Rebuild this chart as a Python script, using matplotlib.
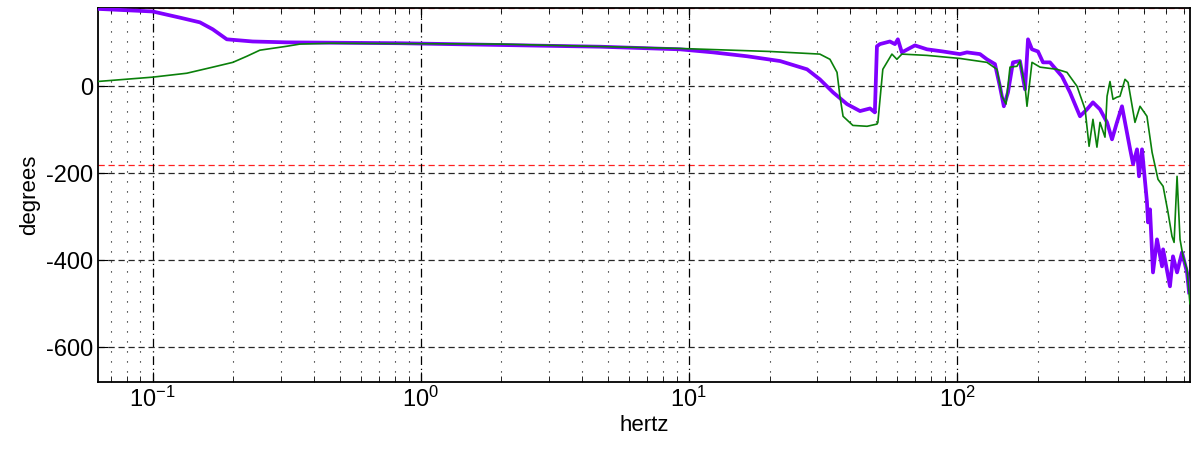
import matplotlib.pyplot as plt
from matplotlib.ticker import LogLocator, NullFormatter, FixedLocator

plt.rcParams['font.family'] = ['Liberation Sans', 'DejaVu Sans']
plt.rcParams['mathtext.fontset'] = 'custom'
plt.rcParams['mathtext.rm'] = 'Liberation Sans'
plt.rcParams['mathtext.default'] = 'regular'

# purple trace (thick)
f_purple = [0.0623, 0.1, 0.126, 0.150, 0.1675, 0.189, 0.236, 0.316, 0.835, 1.97, 4.66,
            9.25, 12.3, 16.5, 21.9, 27.6, 30.8, 34.5, 38.9, 43.5, 47.4, 49.4, 50.3, 51.6,
            56.2, 58.7, 60.2, 62.3, 69.7, 77.3, 88.7, 102.6, 109.0, 121.9, 129.4, 138.6,
            144.6, 149.6, 155.0, 161.8, 171.8, 179.5, 184.1, 190.5, 200.6, 209.4, 222.3,
            246.4, 264.0, 287.7, 305.5, 321.6, 341.7, 363.0, 378.8, 395.2, 412.7, 442.6,
            454.0, 469.6, 477.7, 490.2, 511.4, 516.2, 525.0, 538.6, 557.5, 582.1, 587.5,
            623.2, 639.5, 662.3, 691.2, 721.4, 734.4]
d_purple = [178, 172, 158, 147, 131, 108, 103, 101, 99, 95, 91,
            85, 78, 69, 58, 39, 16, -14, -41, -57, -51, -60, 92, 97,
            103, 97, 108, 78, 94, 85, 80, 74, 78, 74, 62, 51,
            0, -46, -14, 55, 58, -7, 108, 85, 80, 55, 55,
            23, -14, -69, -53, -37, -53, -83, -122, -83, -46, -145,
            -179, -145, -207, -145, -266, -313, -283, -428, -352, -414, -375,
            -460, -391, -428, -382, -428, -474]

# green trace (thin)
f_green = [0.0623, 0.1, 0.134, 0.1675, 0.199, 0.2244, 0.251, 0.316, 0.354, 0.457, 1.97,
           9.25, 20.1, 30.8, 33.6, 35.7, 36.6, 37.6, 40.9, 46.2, 50.3, 50.7, 52.9, 57.2,
           59.7, 62.3, 77.3, 102.6, 129.4, 141.0, 147.2, 152.4, 157.7, 167.4, 171.8,
           179.5, 182.5, 190.5, 204.2, 236.1, 257.3, 280.5, 300.6, 311.1, 321.6, 332.8,
           341.7, 356.6, 363.0, 372.3, 382.0, 395.2, 405.6, 423.5, 434.9, 445.9, 461.4,
           481.8, 511.4, 534.5, 562.3, 587.5, 612.9, 634.1, 645.6, 662.3, 679.4, 697.2,
           721.4, 740.0]
d_green = [11, 21, 30, 44, 55, 69, 83, 92, 97, 99, 97,
           87, 80, 74, 62, 32, -23, -69, -90, -92, -87, -83, 39, 74,
           62, 74, 71, 64, 55, 39, -23, -41, 44, 46, 58,
           0, -46, 55, 44, 39, 32, 0, -53, -138, -76, -140,
           -83, -117, -23, 11, -30, -25, -23, 16, 9, -30, -83,
           -46, -69, -152, -214, -230, -290, -345, -359, -207, -352, -391,
           -421, -500]

yticks = [-600, -400, -200, 0]
ref_lines = [180, -180]

fig = plt.figure(figsize=(11.92, 4.57), dpi=100)
ax = fig.add_axes([0.0822, 0.1641, 0.9161, 0.8184])

ax.set_xscale('log')
ax.set_xlim(0.0625, 740)
ax.set_ylim(-680, 180)

# grid
ax.xaxis.set_major_locator(LogLocator(base=10, numticks=10))
ax.xaxis.set_minor_locator(LogLocator(base=10, subs=range(2, 10), numticks=20))
ax.xaxis.set_minor_formatter(NullFormatter())
ax.yaxis.set_major_locator(FixedLocator(yticks))
ax.grid(True, which='major', axis='x', color='k', linestyle=(0, (7, 3, 1, 3)), lw=0.9)
ax.grid(True, which='major', axis='y', color='0.15', linestyle=(0, (5, 3)), lw=0.9)
ax.grid(True, which='minor', axis='x', color='k', linestyle=(0, (1, 8)), lw=0.8)

for r in ref_lines:
    ax.axhline(r, color='#ff2020', linestyle=(0, (5, 3)), lw=0.9, zorder=1.5)

ax.plot(f_purple, d_purple, color='#8000ff', lw=2.7, zorder=3)
ax.plot(f_green, d_green, color='#0a800a', lw=1.2, zorder=4)

ax.tick_params(which='both', direction='in', top=True, right=False, labelsize=17)
ax.tick_params(which='major', length=7)
ax.tick_params(which='minor', length=4)
ax.set_yticklabels([str(v) for v in yticks])
for s in ax.spines.values():
    s.set_linewidth(1.3)

ax.set_xlabel('hertz', fontsize=16, labelpad=2)
ax.set_ylabel('degrees', fontsize=16, labelpad=4)

fig.savefig('out.png', dpi=100)
